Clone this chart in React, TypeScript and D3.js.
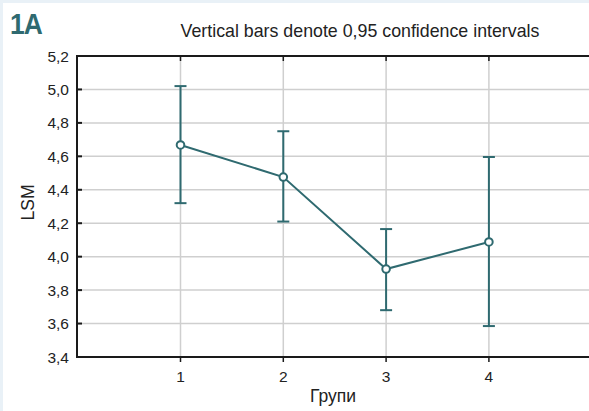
import React from "react";
import * as d3 from "d3";

const groups = [1, 2, 3, 4];
const means = [4.668, 4.476, 3.926, 4.088];
const upper = [5.02, 4.75, 4.165, 4.596];
const lower = [4.32, 4.21, 3.68, 3.585];
const yTicks = [3.4, 3.6, 3.8, 4.0, 4.2, 4.4, 4.6, 4.8, 5.0, 5.2];

const W = 589;
const H = 411;
const left = 77;
const top = 56;
const bottom = 357;
const teal = "#2f6a70";
const fmt = (v: number) => v.toFixed(1).replace(".", ",");

export default function App() {
  const x = d3.scaleLinear().domain([0, 5]).range([77.7, 591.7]);
  const y = d3.scaleLinear().domain([3.4, 5.2]).range([bottom, top]);
  const line = d3
    .line<number>()
    .x((_, i) => x(groups[i]))
    .y((d) => y(d));
  const font = "Liberation Sans, Arial, sans-serif";
  return (
    <svg
      width={W}
      height={H}
      style={{ position: "absolute", left: 0, top: 0 }}
      fontFamily={font}
    >
      <rect x={0} y={0} width={W} height={H} fill="#e9f1f7" />
      <rect x={3} y={3} width={W - 3} height={H - 3} fill="#ffffff" />
      <text
        transform="translate(10, 34) scale(0.88, 1)"
        fontSize={30}
        fontWeight="bold"
        fill={teal}
        letterSpacing={-1}
      >
        1A
      </text>
      <text x={360} y={37} fontSize={17.8} textAnchor="middle" fill="#222">
        Vertical bars denote 0,95 confidence intervals
      </text>
      {/* gridlines */}
      {yTicks.slice(1, -1).map((t) => (
        <line key={"gy" + t} x1={left} x2={W} y1={y(t)} y2={y(t)} stroke="#cfcfcf" strokeWidth={1.5} />
      ))}
      {groups.map((g) => (
        <line key={"gx" + g} x1={x(g)} x2={x(g)} y1={top} y2={bottom} stroke="#cfcfcf" strokeWidth={1.5} />
      ))}
      {/* axes frame */}
      <line x1={left} x2={W} y1={top} y2={top} stroke="#1a1a1a" strokeWidth={2} />
      <line x1={left} x2={W} y1={bottom} y2={bottom} stroke="#1a1a1a" strokeWidth={2} />
      <line x1={left} x2={left} y1={top - 1} y2={bottom + 1} stroke="#1a1a1a" strokeWidth={2} />
      {/* y ticks */}
      {yTicks.map((t) => (
        <g key={"yt" + t}>
          <line x1={left} x2={left + 5} y1={y(t)} y2={y(t)} stroke="#1a1a1a" strokeWidth={2} />
          <text x={left - 8} y={y(t) + 5.5} fontSize={15.5} textAnchor="end" fill="#222">
            {fmt(t)}
          </text>
        </g>
      ))}
      {/* x ticks */}
      {groups.map((g) => (
        <g key={"xt" + g}>
          <line x1={x(g)} x2={x(g)} y1={bottom} y2={bottom + 5} stroke="#1a1a1a" strokeWidth={1.5} />
          <line x1={x(g)} x2={x(g)} y1={top} y2={top + 5} stroke="#1a1a1a" strokeWidth={1.5} />
          <text x={x(g)} y={bottom + 25} fontSize={15.5} textAnchor="middle" fill="#222">
            {g}
          </text>
        </g>
      ))}
      <text x={333} y={402} fontSize={17.5} textAnchor="middle" fill="#222">
        Групи
      </text>
      <text
        transform={`translate(34, ${(top + bottom) / 2 - 4}) rotate(-90)`}
        fontSize={17.5}
        textAnchor="middle"
        fill="#222"
      >
        LSM
      </text>
      {/* error bars */}
      {groups.map((g, i) => (
        <g key={"eb" + g} stroke={teal} strokeWidth={2}>
          <line x1={x(g)} x2={x(g)} y1={y(upper[i])} y2={y(lower[i])} />
          <line x1={x(g) - 6} x2={x(g) + 6} y1={y(upper[i])} y2={y(upper[i])} />
          <line x1={x(g) - 6} x2={x(g) + 6} y1={y(lower[i])} y2={y(lower[i])} />
        </g>
      ))}
      <path d={line(means) || ""} fill="none" stroke={teal} strokeWidth={2} />
      {groups.map((g, i) => (
        <circle key={"pt" + g} cx={x(g)} cy={y(means[i])} r={3.8} fill="#fff" stroke={teal} strokeWidth={2} />
      ))}
    </svg>
  );
}
